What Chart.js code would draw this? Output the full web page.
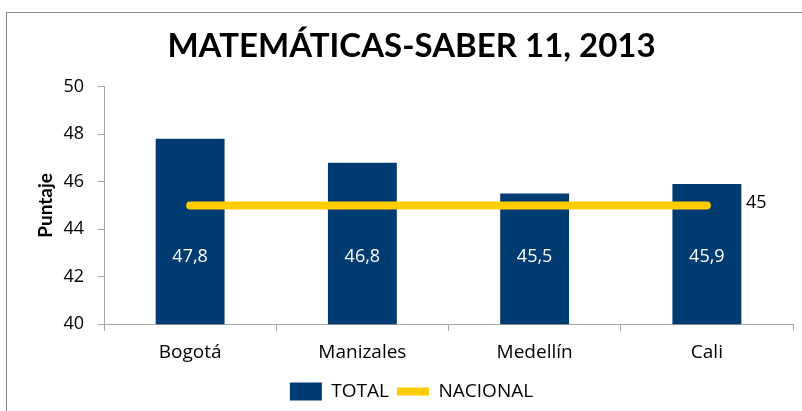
<!DOCTYPE html>
<html>
<head>
<meta charset="utf-8">
<script src="https://cdn.jsdelivr.net/npm/chart.js@4"></script>
<style>
  body { margin: 0; background: #fff; overflow: hidden; }
  #wrap { position: relative; width: 802px; height: 411px; }
  #frame { position: absolute; left: 6px; top: 12px; width: 820px; height: 420px;
           border-top: 1px solid #8c8c8c; border-left: 1px solid #8c8c8c; pointer-events: none; }
</style>
</head>
<body>
<div id="wrap">
  <canvas id="myChart"></canvas>
  <div id="frame"></div>
</div>
<script>
// data
const ciudades = ['Bogotá', 'Manizales', 'Medellín', 'Cali'];
const total = [47.8, 46.8, 45.5, 45.9];
const nacional = [45, 45, 45, 45];
const yTicks = [40, 42, 44, 46, 48, 50];

const AZUL = '#003b71';
const AMARILLO = '#ffcc00';
const TEXTO = '"Open Sans", sans-serif';

function coma(v) {
  return v.toFixed(1).replace('.', ',');
}

// labels inside bars + the "45" at the end of the line
const etiquetas = {
  id: 'etiquetas',
  afterDatasetsDraw(chart) {
    const ctx = chart.ctx;
    const y = chart.scales.y;
    ctx.save();
    ctx.font = '18px ' + TEXTO;
    ctx.textBaseline = 'middle';

    const barras = chart.getDatasetMeta(0);
    ctx.fillStyle = '#fff';
    ctx.textAlign = 'center';
    barras.data.forEach(function (el, i) {
      ctx.fillText(coma(total[i]), el.x, y.getPixelForValue(42.85));
    });

    const linea = chart.getDatasetMeta(1);
    const ultimo = linea.data[linea.data.length - 1];
    ctx.fillStyle = '#000';
    ctx.textAlign = 'left';
    ctx.fillText(String(nacional[nacional.length - 1]), ultimo.x + 39, ultimo.y - 3);
    ctx.restore();
  }
};

const data = {
  labels: ciudades,
  datasets: [
    {
      type: 'bar',
      label: 'TOTAL',
      data: total,
      backgroundColor: AZUL,
      borderColor: AZUL,
      pointStyle: 'rect',
      barPercentage: 0.4,
      categoryPercentage: 1,
      order: 1
    },
    {
      type: 'line',
      label: 'NACIONAL',
      data: nacional,
      borderColor: AMARILLO,
      backgroundColor: AMARILLO,
      borderWidth: 8,
      borderCapStyle: 'round',
      pointRadius: 0,
      pointStyle: 'line',
      order: 0
    }
  ]
};

const config = {
  data: data,
  plugins: [etiquetas],
  options: {
    responsive: true,
    maintainAspectRatio: false,
    animation: false,
    layout: { padding: { left: 30, right: 9, top: 14, bottom: 0 } },
    plugins: {
      tooltip: { enabled: false },
      title: {
        display: true,
        text: 'MATEMÁTICAS-SABER 11, 2013',
        color: '#000',
        font: { family: 'Lato, sans-serif', size: 33, weight: 'bold' },
        padding: { top: 13, bottom: 20 }
      },
      legend: {
        position: 'bottom',
        labels: {
          usePointStyle: true,
          pointStyleWidth: 32,
          boxHeight: 18,
          color: '#000',
          padding: 8,
          font: { family: TEXTO, size: 19 },
          sort: (a, b) => a.datasetIndex - b.datasetIndex
        }
      }
    },
    scales: {
      x: {
        grid: { display: true, drawOnChartArea: false, color: '#a6a6a6', tickLength: 7, offset: true },
        border: { color: '#a6a6a6' },
        ticks: { color: '#000', padding: 10, font: { family: TEXTO, size: 19 } }
      },
      y: {
        min: 40,
        max: 50,
        afterFit(scale) { scale.width = 74; },
        afterBuildTicks(scale) { scale.ticks = yTicks.map(v => ({ value: v })); },
        grid: { display: true, drawOnChartArea: false, color: '#a6a6a6', tickLength: 6 },
        border: { color: '#a6a6a6' },
        ticks: { color: '#000', padding: 14, font: { family: TEXTO, size: 18 } },
        title: {
          display: true,
          text: 'Puntaje',
          color: '#000',
          padding: { top: 4, bottom: 0 },
          font: { family: 'Lato, sans-serif', size: 19, weight: 'bold' }
        }
      }
    }
  }
};

// make sure the installed fonts are ready before the first draw
Promise.all([
  document.fonts.load('18px "Open Sans"'),
  document.fonts.load('bold 34px Lato')
]).catch(function () {}).then(function () {
  const myChart = new Chart(document.getElementById('myChart'), config);
});
</script>
</body>
</html>
